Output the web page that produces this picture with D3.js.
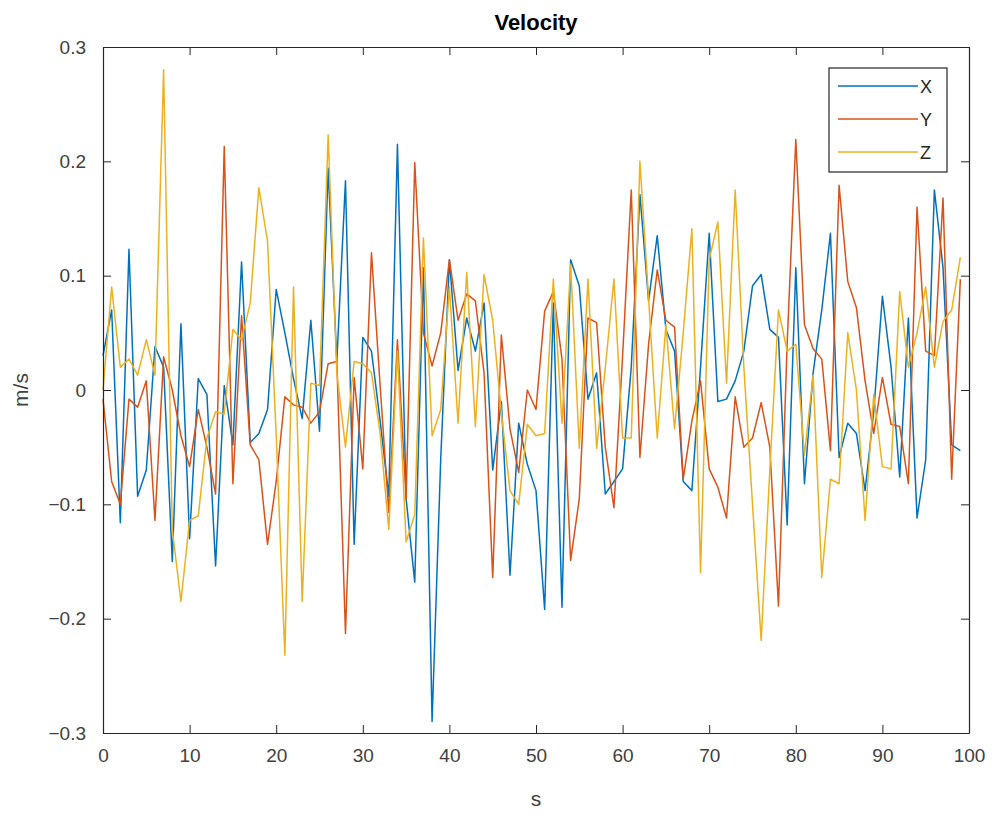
<!DOCTYPE html>
<html>
<head>
<meta charset="utf-8">
<script src="https://cdn.jsdelivr.net/npm/d3@7"></script>
<style>
  body { margin: 0; background: #fff; }
  svg { font-family: "Liberation Sans", Arial, sans-serif; }
</style>
</head>
<body>
<svg id="chart" width="995" height="815"></svg>
<script>
// values sampled at t = 0..99 s
const seriesNames = ["X", "Y", "Z"];
const seriesColors = ["#0072BD", "#D95319", "#EDB120"];

const velX = [
  0.03, 0.07, -0.116, 0.123, -0.093, -0.07, 0.038, 0.02, -0.15, 0.058,
  -0.13, 0.01, -0.004, -0.154, 0.004, -0.048, 0.112, -0.046, -0.038, -0.017,
  0.088, 0.05, 0.01, -0.025, 0.061, -0.036, 0.194, 0.025, 0.183, -0.135,
  0.046, 0.034, -0.027, -0.093, 0.215, -0.095, -0.168, 0.107, -0.29, -0.06,
  0.114, 0.017, 0.063, 0.034, 0.076, -0.07, -0.01, -0.162, -0.029, -0.065,
  -0.088, -0.192, 0.076, -0.19, 0.114, 0.091, -0.008, 0.015, -0.091, -0.08,
  -0.069, 0.02, 0.171, 0.078, 0.135, 0.053, 0.034, -0.08, -0.088, 0.02,
  0.137, -0.01, -0.008, 0.008, 0.034, 0.091, 0.101, 0.053, 0.046, -0.118,
  0.107, -0.082, 0.015, 0.07, 0.137, -0.059, -0.029, -0.038, -0.088, -0.019,
  0.082, 0.02, -0.076, 0.063, -0.112, -0.061, 0.175, 0.107, -0.048, -0.053
];

const velY = [
  -0.008, -0.08, -0.1, -0.008, -0.015, 0.008, -0.114, 0.029, 0.0, -0.04,
  -0.067, -0.017, -0.05, -0.091, 0.213, -0.082, 0.065, -0.048, -0.061, -0.135,
  -0.08, -0.006, -0.013, -0.015, -0.029, -0.019, 0.023, 0.025, -0.213, 0.011,
  -0.069, 0.12, 0.004, -0.107, 0.044, -0.095, 0.199, 0.05, 0.021, 0.05,
  0.114, 0.061, 0.084, 0.078, 0.015, -0.164, 0.048, -0.034, -0.072, 0.0,
  -0.017, 0.069, 0.086, 0.027, -0.149, -0.095, 0.063, 0.059, -0.05, -0.103,
  0.03, 0.175, -0.059, 0.04, 0.105, 0.061, 0.055, -0.078, -0.027, 0.008,
  -0.069, -0.085, -0.112, -0.006, -0.05, -0.042, -0.011, -0.05, -0.189, 0.04,
  0.219, 0.057, 0.036, 0.027, -0.053, 0.179, 0.095, 0.072, 0.008, -0.038,
  0.011, -0.03, -0.032, -0.082, 0.16, 0.034, 0.03, 0.168, -0.078, 0.097
];

const velZ = [
  0.0, 0.09, 0.02, 0.027, 0.013, 0.044, 0.013, 0.28, -0.122, -0.185,
  -0.114, -0.11, -0.042, -0.019, -0.021, 0.053, 0.044, 0.076, 0.177, 0.13,
  -0.04, -0.232, 0.09, -0.185, 0.006, 0.004, 0.223, 0.015, -0.05, 0.025,
  0.023, 0.015, -0.038, -0.122, 0.034, -0.133, -0.109, 0.133, -0.04, -0.017,
  0.09, -0.029, 0.103, -0.032, 0.101, 0.061, -0.02, -0.088, -0.1, -0.03,
  -0.04, -0.038, 0.097, -0.029, 0.11, -0.051, 0.097, -0.051, 0.019, 0.097,
  -0.042, -0.042, 0.2, 0.08, -0.042, 0.057, -0.034, 0.05, 0.141, -0.16,
  0.114, 0.147, 0.006, 0.175, 0.02, -0.1, -0.219, -0.07, 0.07, 0.034,
  0.04, -0.057, 0.013, -0.164, -0.078, -0.082, 0.05, 0.0, -0.114, -0.004,
  -0.067, -0.069, 0.086, 0.02, 0.05, 0.09, 0.02, 0.06, 0.07, 0.116
];

const xTicks = [0, 10, 20, 30, 40, 50, 60, 70, 80, 90, 100];
const yTicks = [-0.3, -0.2, -0.1, 0, 0.1, 0.2, 0.3];

const allSeries = [velX, velY, velZ];

const svg = d3.select("#chart");
const margin = { top: 47, right: 26, bottom: 82, left: 103 };
const width = 995 - margin.left - margin.right;
const height = 815 - margin.top - margin.bottom;
const axisColor = "#262626";

const x = d3.scaleLinear().domain([0, 100]).range([0, width]);
const y = d3.scaleLinear().domain([-0.3, 0.3]).range([height, 0]);

const g = svg.append("g").attr("transform", `translate(${margin.left},${margin.top})`);

g.append("rect")
  .attr("width", width).attr("height", height)
  .attr("fill", "#fff");

// lines
const line = d3.line()
  .x((d, i) => x(i))
  .y(d => y(d));

g.append("g")
  .selectAll("path")
  .data(allSeries)
  .enter()
  .append("path")
  .attr("d", line)
  .attr("fill", "none")
  .attr("stroke", (d, i) => seriesColors[i])
  .attr("stroke-width", 1.5)
  .attr("stroke-linejoin", "round");

// axes (ticks point inward, box all round)
function styleAxis(sel) {
  sel.select(".domain").attr("stroke", axisColor).attr("stroke-width", 1.2);
  sel.selectAll(".tick line").attr("stroke", axisColor).attr("stroke-width", 1);
  sel.selectAll(".tick text")
    .attr("fill", "#404040")
    .style("font-size", "19px");
}

const tickLen = 8;
const xAxisB = g.append("g").attr("transform", `translate(0,${height})`)
  .call(d3.axisBottom(x).tickValues(xTicks).tickSizeInner(-tickLen).tickSizeOuter(0).tickPadding(16).tickFormat(d3.format("d")));
styleAxis(xAxisB);

const xAxisT = g.append("g")
  .call(d3.axisTop(x).tickValues(xTicks).tickSizeInner(-tickLen).tickSizeOuter(0).tickFormat(""));
styleAxis(xAxisT);

const yAxisL = g.append("g")
  .call(d3.axisLeft(y).tickValues(yTicks).tickSizeInner(-tickLen).tickSizeOuter(0).tickPadding(17).tickFormat(d => d3.format("")(+d.toFixed(1))));
styleAxis(yAxisL);

const yAxisR = g.append("g").attr("transform", `translate(${width},0)`)
  .call(d3.axisRight(y).tickValues(yTicks).tickSizeInner(-tickLen).tickSizeOuter(0).tickFormat(""));
styleAxis(yAxisR);

// title and labels
svg.append("text")
  .attr("x", margin.left + width / 2)
  .attr("y", 30)
  .attr("text-anchor", "middle")
  .attr("fill", "#000")
  .style("font-size", "22px")
  .style("font-weight", "bold")
  .text("Velocity");

svg.append("text")
  .attr("x", margin.left + width / 2)
  .attr("y", 806)
  .attr("text-anchor", "middle")
  .attr("fill", "#404040")
  .style("font-size", "21px")
  .text("s");

svg.append("text")
  .attr("transform", `translate(28,${margin.top + height / 2}) rotate(-90)`)
  .attr("text-anchor", "middle")
  .attr("fill", "#404040")
  .style("font-size", "21px")
  .text("m/s");

// legend
const legend = svg.append("g").attr("transform", "translate(829,68)");
legend.append("rect")
  .attr("width", 118).attr("height", 104)
  .attr("fill", "#fff")
  .attr("stroke", axisColor)
  .attr("stroke-width", 1.2);

const rows = legend.selectAll("g.row")
  .data(seriesNames)
  .enter()
  .append("g")
  .attr("class", "row")
  .attr("transform", (d, i) => `translate(0,${18 + i * 33})`);

rows.append("line")
  .attr("x1", 9).attr("x2", 89)
  .attr("stroke", (d, i) => seriesColors[i])
  .attr("stroke-width", 1.5);

rows.append("text")
  .attr("x", 91)
  .attr("y", 7)
  .attr("fill", axisColor)
  .style("font-size", "18px")
  .text(d => d);
</script>
</body>
</html>
